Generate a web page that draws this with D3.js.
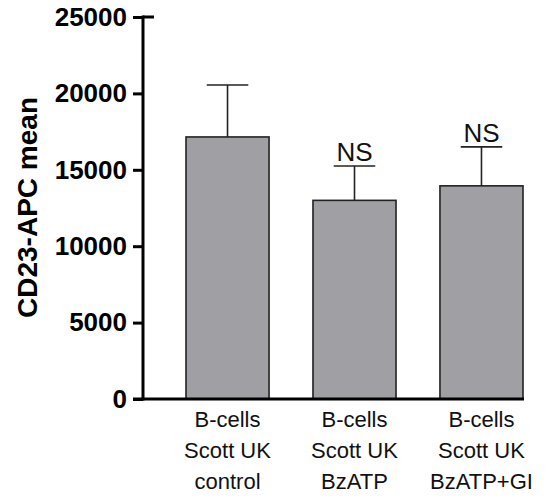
<!DOCTYPE html>
<html>
<head>
<meta charset="utf-8">
<script src="https://cdn.jsdelivr.net/npm/d3@7"></script>
<style>
html,body{margin:0;padding:0;background:#fff;}
svg{display:block;}
</style>
</head>
<body>
<svg id="chart" width="555" height="498"></svg>
<script>
const categories = [
  ["B-cells", "Scott UK", "control"],
  ["B-cells", "Scott UK", "BzATP"],
  ["B-cells", "Scott UK", "BzATP+GI"]
];
const means = [17150, 13000, 13950];
const errors = [3400, 2250, 2550];
const annotations = ["", "NS", "NS"];
const yTicks = [0, 5000, 10000, 15000, 20000, 25000];
const yLabel = "CD23-APC mean";

const svg = d3.select("#chart");
const axisX = 143, axisR = 524, y0 = 399, yTop = 17;

const y = d3.scaleLinear().domain([0, 25000]).range([y0, yTop]);
const x = d3.scaleBand().domain(d3.range(categories.length))
  .range([186, 523]).paddingInner(0.346).paddingOuter(0);

const fill = "#a0a0a4", stroke = "#222";

// bars
svg.selectAll("rect.bar").data(means).enter().append("rect")
  .attr("x", (d, i) => x(i))
  .attr("y", d => y(d))
  .attr("width", x.bandwidth())
  .attr("height", d => y(0) - y(d))
  .attr("fill", fill).attr("stroke", stroke).attr("stroke-width", 1.6);

// error bars
const eg = svg.append("g").attr("stroke", stroke).attr("stroke-width", 1.6);
means.forEach((m, i) => {
  const cx = x(i) + x.bandwidth() / 2;
  eg.append("line").attr("x1", cx).attr("x2", cx).attr("y1", y(m)).attr("y2", y(m + errors[i]));
  eg.append("line").attr("x1", cx - x.bandwidth() / 4).attr("x2", cx + x.bandwidth() / 4)
    .attr("y1", y(m + errors[i])).attr("y2", y(m + errors[i]));
  if (annotations[i]) {
    svg.append("text").attr("x", cx).attr("y", y(m + errors[i]) - 5)
      .attr("text-anchor", "middle")
      .attr("font-family", "Liberation Sans, Arial, sans-serif")
      .attr("font-size", 26).attr("fill", "#111").text(annotations[i]);
  }
});

// y axis
const yAxis = d3.axisLeft(y).tickValues(yTicks).tickSize(10).tickPadding(6).tickFormat(d3.format("d"));
const ga = svg.append("g").attr("transform", `translate(${axisX},0)`).call(yAxis);
ga.select(".domain").remove();
ga.selectAll(".tick line").attr("stroke", "#000").attr("stroke-width", 3);
ga.selectAll(".tick text").attr("font-family", "Liberation Sans, Arial, sans-serif")
  .attr("font-size", 26).attr("font-weight", "bold").attr("fill", "#000");
// top tick extends right too
svg.append("line").attr("x1", axisX).attr("x2", axisX + 11).attr("y1", y(25000)).attr("y2", y(25000))
  .attr("stroke", "#000").attr("stroke-width", 3);
// axis lines
svg.append("line").attr("x1", axisX).attr("x2", axisX).attr("y1", y(25000) - 1.5).attr("y2", y0 + 1.5)
  .attr("stroke", "#000").attr("stroke-width", 3);
svg.append("line").attr("x1", axisX - 10).attr("x2", axisR).attr("y1", y0).attr("y2", y0)
  .attr("stroke", "#000").attr("stroke-width", 3);

// category labels
categories.forEach((lines, i) => {
  const cx = x(i) + x.bandwidth() / 2;
  const t = svg.append("text").attr("text-anchor", "middle")
    .attr("font-family", "Liberation Sans, Arial, sans-serif")
    .attr("font-size", 22).attr("fill", "#111");
  lines.forEach((l, j) => {
    t.append("tspan").attr("x", cx).attr("y", 427 + j * 31).text(l);
  });
});

// y label
svg.append("text")
  .attr("transform", `translate(37,${(100 + 315) / 2}) rotate(-90)`)
  .attr("text-anchor", "middle")
  .attr("font-family", "Liberation Sans, Arial, sans-serif")
  .attr("font-size", 28).attr("font-weight", "bold").attr("fill", "#000")
  .text(yLabel);
</script>
</body>
</html>
